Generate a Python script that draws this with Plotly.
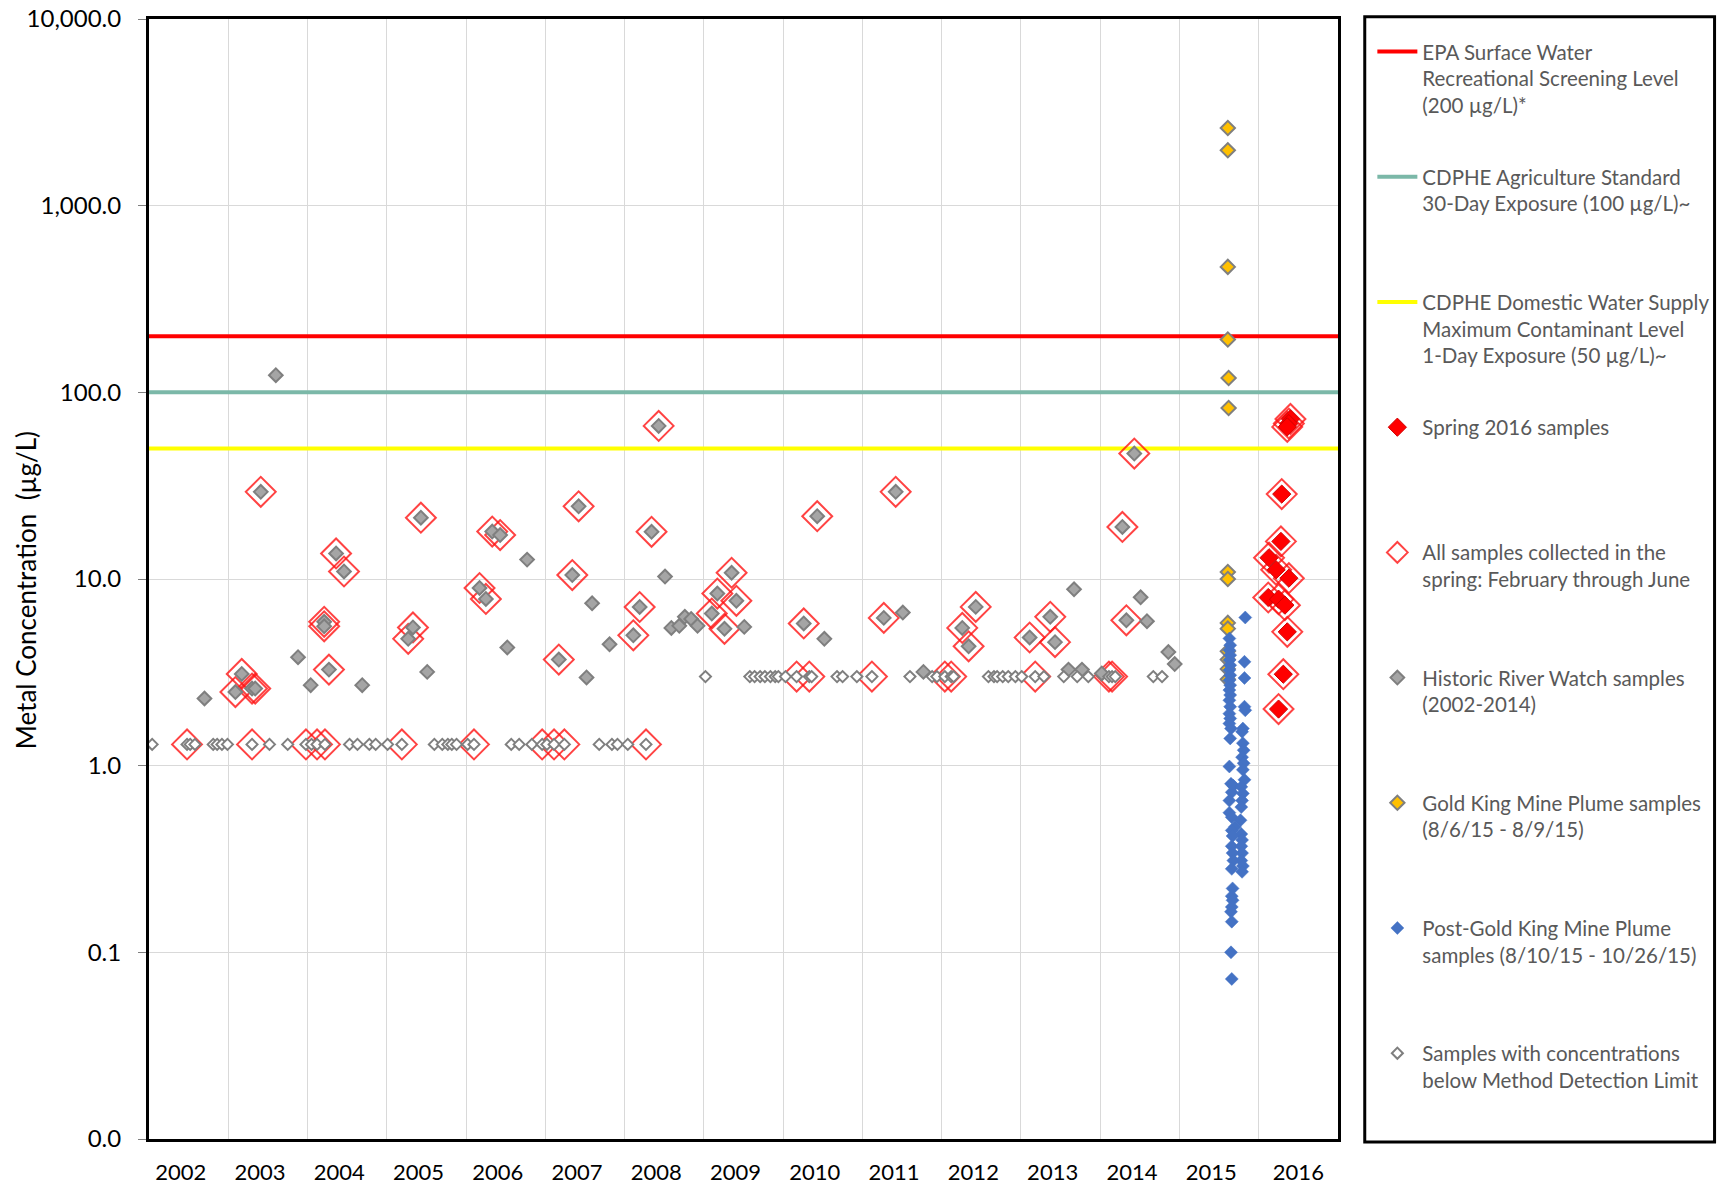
import plotly.graph_objects as go

# ---------------- data ----------------
years = list(range(2002, 2017))
year_labels = [str(y) for y in years]

y_tickvals = [0.01, 0.1, 1, 10, 100, 1000, 10000]
y_ticktext = ["0.0", "0.1", "1.0", "10.0", "100.0", "1,000.0", "10,000.0"]

threshold_names = [
    ["EPA Surface Water", "Recreational Screening Level", "(200 µg/L)*"],
    ["CDPHE Agriculture Standard", "30-Day Exposure (100 µg/L)~"],
    ["CDPHE Domestic Water Supply", "Maximum Contaminant Level", "1-Day Exposure (50 µg/L)~"],
]
threshold_values = [200, 100, 50]
threshold_colors = ["#ff0000", "#7bb8a8", "#ffff00"]

# Historic River Watch samples (decimal year, µg/L, collected in spring?)
hist_x = [2002.70, 2003.09, 2003.17, 2003.30, 2003.34, 2003.41, 2003.60, 2003.88, 2004.04, 2004.21,
          2004.21, 2004.27, 2004.36, 2004.46, 2004.69, 2005.27, 2005.33, 2005.43, 2005.51, 2006.17,
          2006.25, 2006.33, 2006.43, 2006.52, 2006.77, 2007.17, 2007.34, 2007.42, 2007.52, 2007.59,
          2007.81, 2008.11, 2008.19, 2008.34, 2008.43, 2008.51, 2008.59, 2008.69, 2008.76, 2008.84,
          2008.92, 2009.10, 2009.17, 2009.26, 2009.35, 2009.41, 2009.51, 2010.26, 2010.43, 2010.52,
          2011.27, 2011.42, 2011.51, 2011.77, 2012.26, 2012.34, 2012.43, 2013.11, 2013.37, 2013.43,
          2013.60, 2013.67, 2013.77, 2014.02, 2014.28, 2014.33, 2014.43, 2014.51, 2014.59, 2014.86,
          2014.94]
hist_y = [2.29, 2.48, 3.10, 2.59, 2.59, 29.3, 123.5, 3.81, 2.70, 5.90,
          5.58, 3.27, 13.7, 10.97, 2.70, 4.78, 5.50, 21.3, 3.18, 8.95,
          7.82, 17.96, 17.2, 4.30, 12.7, 3.70, 10.5, 24.5, 2.97, 7.41,
          4.47, 4.99, 7.08, 17.9, 66.1, 10.3, 5.47, 5.61, 6.27, 6.11,
          5.61, 6.53, 8.36, 5.41, 10.8, 7.64, 5.54, 5.78, 21.7, 4.78,
          6.19, 29.3, 6.61, 3.18, 5.47, 4.36, 7.09, 4.86, 6.27, 4.59,
          3.27, 8.81, 3.27, 3.12, 19.0, 6.01, 47.0, 7.98, 5.94, 4.06,
          3.50]
hist_spring = [0, 1, 1, 1, 1, 1, 0, 0, 0, 1,
               1, 1, 1, 1, 0, 1, 1, 1, 0, 1,
               1, 1, 1, 0, 0, 1, 1, 1, 0, 0,
               0, 1, 1, 1, 1, 0, 0, 0, 0, 0,
               0, 1, 1, 1, 1, 1, 0, 1, 1, 0,
               1, 1, 0, 0, 1, 1, 1, 1, 1, 1,
               0, 0, 0, 0, 1, 1, 1, 0, 0, 0,
               0]

# Samples below Method Detection Limit
mdl_x = [2002.04, 2002.48, 2002.52, 2002.58, 2002.81, 2002.86, 2002.92, 2002.99, 2003.30, 2003.52,
         2003.75, 2003.98, 2004.05, 2004.12, 2004.22, 2004.53, 2004.63, 2004.78, 2004.86, 2005.01,
         2005.19, 2005.60, 2005.70, 2005.77, 2005.82, 2005.88, 2006.02, 2006.10, 2006.57, 2006.67,
         2006.83, 2006.96, 2007.02, 2007.11, 2007.24, 2007.68, 2007.84, 2007.91, 2008.04, 2008.27,
         2009.02, 2009.58, 2009.64, 2009.71, 2009.77, 2009.84, 2009.90, 2009.94, 2010.03, 2010.17,
         2010.33, 2010.36, 2010.68, 2010.75, 2010.93, 2011.12, 2011.60, 2011.88, 2011.94, 2012.04,
         2012.12, 2012.15, 2012.59, 2012.66, 2012.70, 2012.77, 2012.84, 2012.93, 2013.01, 2013.18,
         2013.29, 2013.54, 2013.71, 2013.85, 2014.11, 2014.15, 2014.19, 2014.67, 2014.78]
mdl_y = [1.3] * 40 + [3.0] * 39
mdl_spring = [0, 1, 0, 0, 0, 0, 0, 0, 1, 0,
              0, 1, 0, 1, 1, 0, 0, 0, 0, 0,
              1, 0, 0, 0, 0, 0, 0, 1, 0, 0,
              0, 1, 0, 1, 1, 0, 0, 0, 0, 1,
              0, 0, 0, 0, 0, 0, 0, 0, 0, 1,
              1, 0, 0, 0, 0, 1, 0, 0, 0, 1,
              1, 0, 0, 0, 0, 0, 0, 0, 0, 1,
              0, 0, 0, 0, 1, 1, 0, 0, 0]

# Gold King Mine plume samples (8/6/15 - 8/9/15)
gold_x = [2015.61, 2015.61, 2015.61, 2015.61, 2015.62, 2015.62, 2015.61, 2015.61, 2015.61, 2015.61,
          2015.61, 2015.61, 2015.61, 2015.61]
gold_y = [2606, 1982, 470, 192, 119.4, 82.4, 10.9, 10.0, 5.82, 5.42,
          4.1, 3.7, 3.3, 2.9]

# Post-Gold King Mine plume samples (8/10/15 - 10/26/15)
blue_x = [2015.83, 2015.63, 2015.64, 2015.63, 2015.64, 2015.63, 2015.82, 2015.64, 2015.63, 2015.64,
          2015.82, 2015.63, 2015.64, 2015.63, 2015.64, 2015.63, 2015.64, 2015.82, 2015.83, 2015.63,
          2015.64, 2015.63, 2015.65, 2015.80, 2015.79, 2015.64, 2015.80, 2015.81, 2015.79, 2015.81,
          2015.63, 2015.80, 2015.82, 2015.65, 2015.68, 2015.78, 2015.66, 2015.80, 2015.63, 2015.79,
          2015.78, 2015.63, 2015.66, 2015.77, 2015.70, 2015.66, 2015.78, 2015.67, 2015.79, 2015.66,
          2015.78, 2015.79, 2015.67, 2015.78, 2015.68, 2015.80, 2015.66, 2015.79, 2015.67, 2015.66,
          2015.67, 2015.66, 2015.65, 2015.66, 2015.65, 2015.66]
blue_y = [6.22, 4.80, 4.42, 4.15, 3.91, 3.68, 3.60, 3.45, 3.25, 3.05,
          2.95, 2.87, 2.70, 2.54, 2.39, 2.24, 2.07, 2.07, 1.98, 1.90,
          1.79, 1.68, 1.58, 1.58, 1.52, 1.40, 1.32, 1.21, 1.11, 1.03,
          0.99, 0.95, 0.84, 0.80, 0.78, 0.77, 0.72, 0.71, 0.65, 0.65,
          0.60, 0.56, 0.53, 0.51, 0.47, 0.45, 0.43, 0.42, 0.40, 0.37,
          0.37, 0.34, 0.34, 0.31, 0.31, 0.29, 0.28, 0.27, 0.22, 0.20,
          0.19, 0.175, 0.165, 0.146, 0.10, 0.072]

# Spring 2016 samples
s16_x = [2016.40, 2016.38, 2016.36, 2016.29, 2016.28, 2016.13, 2016.22, 2016.38, 2016.12, 2016.25,
         2016.33, 2016.36, 2016.31, 2016.25]
s16_y = [72, 68, 65.3, 28.5, 15.9, 13.0, 11.2, 10.1, 7.96, 7.8,
         7.24, 5.21, 3.09, 2.01]

legend_names = {
    "s16": ["Spring 2016 samples"],
    "spring": ["All samples collected in the", "spring: February through June"],
    "hist": ["Historic River Watch samples", "(2002-2014)"],
    "gold": ["Gold King Mine Plume samples", "(8/6/15 - 8/9/15)"],
    "blue": ["Post-Gold King Mine Plume", "samples (8/10/15 - 10/26/15)"],
    "mdl": ["Samples with concentrations", "below Method Detection Limit"],
}
y_title = "Metal Concentration  (µg/L)"

# ---------------- helpers ----------------
FONT = "Lato, Carlito, 'Open Sans', sans-serif"
N_LINES = 4


def legend_text(lines):
    padded = list(lines) + ["\u00a0"] * (N_LINES - len(lines))
    return "<br>".join(padded)


x_range = [years[0], years[-1] + 1]
label_pos = [y + 0.4 for y in years]
label_pos[-1] = years[-1] + 0.5

fig = go.Figure()

# threshold lines
for i, (nm, val, col) in enumerate(zip(threshold_names, threshold_values, threshold_colors)):
    fig.add_trace(go.Scatter(
        x=x_range, y=[val, val], mode="lines",
        line=dict(color=col, width=4),
        name=legend_text(nm), legendgroup=f"g{i}", legendrank=i + 1,
        hoverinfo="skip",
    ))

# spring outline (all samples collected in spring)
spring_x = [x for x, s in zip(hist_x, hist_spring) if s] + \
           [x for x, s in zip(mdl_x, mdl_spring) if s] + list(s16_x)
spring_y = [y for y, s in zip(hist_y, hist_spring) if s] + \
           [y for y, s in zip(mdl_y, mdl_spring) if s] + list(s16_y)
fig.add_trace(go.Scatter(
    x=spring_x, y=spring_y, mode="markers",
    marker=dict(symbol="diamond-open", size=23, color="rgba(255,20,20,0.8)",
                line=dict(width=2, color="rgba(255,20,20,0.8)")),
    name=legend_text(legend_names["spring"]), legendgroup="g4", legendrank=5,
))

# historic
fig.add_trace(go.Scatter(
    x=hist_x, y=hist_y, mode="markers",
    marker=dict(symbol="diamond", size=10.5, color="#a5a5a5",
                line=dict(width=2, color="#7f7f7f")),
    name=legend_text(legend_names["hist"]), legendgroup="g5", legendrank=6,
))

# MDL
fig.add_trace(go.Scatter(
    x=mdl_x, y=mdl_y, mode="markers",
    marker=dict(symbol="diamond", size=8.5, color="#ffffff",
                line=dict(width=2, color="#7f7f7f")),
    name=legend_text(legend_names["mdl"]), legendgroup="g8", legendrank=9,
))

# gold king plume
fig.add_trace(go.Scatter(
    x=gold_x, y=gold_y, mode="markers",
    marker=dict(symbol="diamond", size=11, color="#ffc000",
                line=dict(width=2, color="#7f7f7f")),
    name=legend_text(legend_names["gold"]), legendgroup="g6", legendrank=7,
))

# post gold king
fig.add_trace(go.Scatter(
    x=blue_x, y=blue_y, mode="markers",
    marker=dict(symbol="diamond", size=10, color="#4472c4",
                line=dict(width=0.5, color="#4472c4")),
    name=legend_text(legend_names["blue"]), legendgroup="g7", legendrank=8,
))

# spring 2016
fig.add_trace(go.Scatter(
    x=s16_x, y=s16_y, mode="markers",
    marker=dict(symbol="diamond", size=14, color="#ff0000",
                line=dict(width=1, color="#d00000")),
    name=legend_text(legend_names["s16"]), legendgroup="g3", legendrank=4,
))

fig.update_layout(
    width=1729, height=1186,
    margin=dict(l=149, r=391, t=19, b=47, autoexpand=False),
    paper_bgcolor="white", plot_bgcolor="white",
    font=dict(family=FONT, color="#000000"),
    showlegend=True,
    legend=dict(
        x=1.0289, y=0.9886, xanchor="left", yanchor="top",
        bgcolor="rgba(0,0,0,0)", borderwidth=0,
        font=dict(family=FONT, size=20.5, color="#595959"),
        traceorder="grouped", tracegroupgap=15.6, valign="top",
        itemwidth=40, maxheight=1180,
    ),
    xaxis=dict(
        range=x_range, tickmode="array", tickvals=label_pos, ticktext=year_labels,
        showgrid=False, ticks="", zeroline=False,
        showline=True, linecolor="black", linewidth=3, mirror=True,
        tickfont=dict(family=FONT, size=22, color="#000000"),
        ticklabelstandoff=12,
        minor=dict(tickmode="array", tickvals=years[1:], showgrid=True,
                   gridcolor="#d9d9d9", gridwidth=1, ticks=""),
    ),
    yaxis=dict(
        type="log", range=[-2, 4], tickmode="array",
        tickvals=y_tickvals, ticktext=y_ticktext,
        showgrid=True, gridcolor="#d9d9d9", gridwidth=1,
        ticks="outside", ticklen=8, tickcolor="#7f7f7f",
        showline=True, linecolor="black", linewidth=3, mirror=True,
        tickfont=dict(family=FONT, size=24, color="#000000"),
        ticklabelstandoff=12,
    ),
    annotations=[dict(text=y_title, textangle=-90, xref="paper", yref="paper",
                      x=-0.1034, y=0.49, xanchor="center", yanchor="middle",
                      showarrow=False, font=dict(family=FONT, size=26, color="#000000"))],
    shapes=[dict(type="rect", xref="paper", yref="paper",
                 x0=1.0225, x1=1.3167, y0=-0.0027, y1=1.002,
                 line=dict(color="black", width=3), fillcolor="rgba(0,0,0,0)")],
)

# remove the default page margin so the figure sits at the window's top-left corner
fig.write_html("out.html", config={"displayModeBar": False},
               post_script="document.body.style.margin='0';")
